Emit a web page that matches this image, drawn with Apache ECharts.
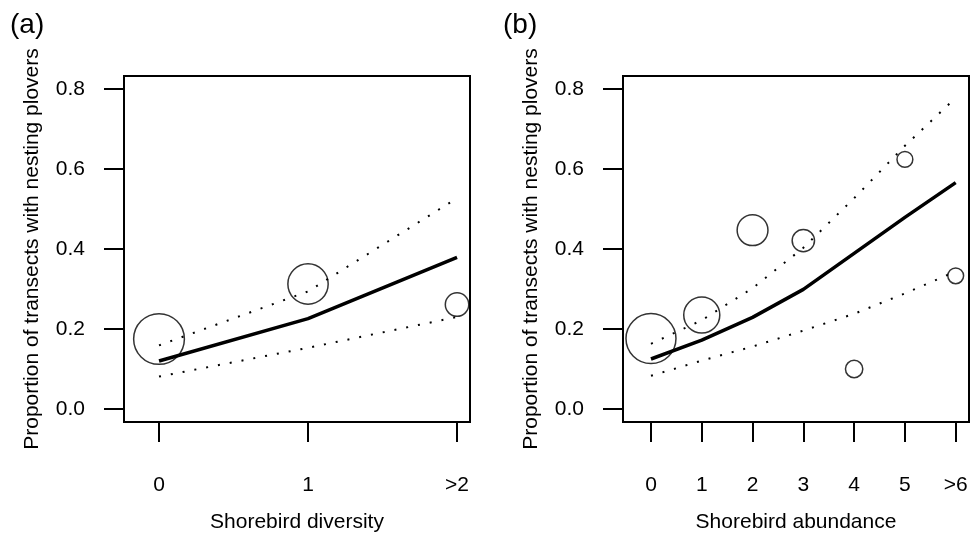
<!DOCTYPE html>
<html>
<head>
<meta charset="utf-8" />
<title>Shorebirds and nesting plovers</title>
<script type="text/javascript" src="https://cdn.jsdelivr.net/npm/echarts@6/dist/echarts.min.js"></script>
<style type="text/css">
html, body {
	width: 100%;
	height: 100%;
	margin: 0;
	background: #fff;
}
#main {
	width: 972px;
	height: 537px;
}
</style>
</head>
<body>
<div id="main"></div>
<script type="text/javascript">
// (a) shorebird diversity
var diversityX = [0, 1, 2];
var diversityTicks = ['0', '1', '>2'];
var diversityFit = [0.120, 0.226, 0.379];
var diversityUpper = [0.159, 0.294, 0.527];
var diversityLower = [0.081, 0.153, 0.230];
var diversityObs = [0.175, 0.3125, 0.261];
var diversityN = [103, 65, 22];

// (b) shorebird abundance
var abundanceX = [0, 1, 2, 3, 4, 5, 6];
var abundanceTicks = ['0', '1', '2', '3', '4', '5', '>6'];
var abundanceFit = [0.125, 0.172, 0.229, 0.299, 0.389, 0.479, 0.566];
var abundanceUpper = [0.163, 0.222, 0.302, 0.403, 0.527, 0.658, 0.778];
var abundanceLower = [0.083, 0.121, 0.156, 0.196, 0.238, 0.289, 0.344];
var abundanceObs = [0.176, 0.235, 0.447, 0.421, 0.100, 0.624, 0.333];
var abundanceN = [100, 52, 38, 20, 12, 10, 10];

var yTicks = [0, 0.2, 0.4, 0.6, 0.8];
var yTitle = 'Proportion of transects with nesting plovers';

var font = 'Liberation Sans';
var chart = echarts.init(document.getElementById('main'), null, {renderer: 'canvas'});

function pairs(xs, ys) {
	return xs.map(function (x, i) { return [x, ys[i]]; });
}

function makeX(idx, min, max, ticks, title) {
	var vals = ticks.map(function (t, i) { return i; });
	return {
		gridIndex: idx,
		type: 'value',
		min: min,
		max: max,
		axisLine: {show: false, onZero: false},
		splitLine: {show: false},
		axisTick: {show: true, length: 20, customValues: vals, lineStyle: {color: '#000', width: 2}},
		axisLabel: {
			customValues: vals,
			formatter: function (v) { return ticks[Math.round(v)]; },
			margin: 53, color: '#000', fontSize: 21, fontFamily: font
		},
		name: title,
		nameLocation: 'middle',
		nameGap: 90,
		nameTextStyle: {color: '#000', fontSize: 21, fontFamily: font}
	};
}

function makeY(idx) {
	return {
		gridIndex: idx,
		type: 'value',
		min: -0.0325,
		max: 0.8325,
		axisLine: {show: false, onZero: false},
		splitLine: {show: false},
		axisTick: {show: true, length: 20, customValues: yTicks, lineStyle: {color: '#000', width: 2}},
		axisLabel: {
			customValues: yTicks,
			formatter: function (v) { return v.toFixed(1); },
			margin: 39, color: '#000', fontSize: 21, fontFamily: font
		},
		name: yTitle,
		nameLocation: 'middle',
		nameGap: 81,
		nameTextStyle: {color: '#000', fontSize: 21, fontFamily: font}
	};
}

function panelSeries(idx, xs, fit, upper, lower, obs, n) {
	var dotted = {color: '#000', width: 2, type: [2, 10]};
	return [
		{type: 'line', xAxisIndex: idx, yAxisIndex: idx, data: pairs(xs, upper), symbol: 'none', lineStyle: dotted, silent: true},
		{type: 'line', xAxisIndex: idx, yAxisIndex: idx, data: pairs(xs, lower), symbol: 'none', lineStyle: dotted, silent: true},
		{type: 'line', xAxisIndex: idx, yAxisIndex: idx, data: pairs(xs, fit), symbol: 'none', lineStyle: {color: '#000', width: 3.5}, silent: true},
		{
			type: 'scatter', xAxisIndex: idx, yAxisIndex: idx,
			data: xs.map(function (x, i) { return [x, obs[i], n[i]]; }),
			symbol: 'circle',
			symbolSize: function (d) { return 5 * Math.sqrt(d[2]); },
			itemStyle: {color: 'rgba(0,0,0,0)', borderColor: '#000', borderWidth: 1.5},
			silent: true
		}
	];
}

var option = {
	animation: false,
	backgroundColor: '#fff',
	grid: [
		{left: 124, top: 76, width: 346, height: 346, outerBoundsMode: 'none', show: true, borderColor: '#000', borderWidth: 2, backgroundColor: 'transparent'},
		{left: 623, top: 76, width: 346, height: 346, outerBoundsMode: 'none', show: true, borderColor: '#000', borderWidth: 2, backgroundColor: 'transparent'}
	],
	graphic: [
		{type: 'text', left: 10, top: 11, style: {text: '(a)', font: '28px Liberation Sans', fill: '#000'}},
		{type: 'text', left: 503, top: 11, style: {text: '(b)', font: '28px Liberation Sans', fill: '#000'}}
	],
	xAxis: [
		makeX(0, -0.235, 2.087, diversityTicks, 'Shorebird diversity'),
		makeX(1, -0.551, 6.262, abundanceTicks, 'Shorebird abundance')
	],
	yAxis: [makeY(0), makeY(1)],
	series: panelSeries(0, diversityX, diversityFit, diversityUpper, diversityLower, diversityObs, diversityN)
		.concat(panelSeries(1, abundanceX, abundanceFit, abundanceUpper, abundanceLower, abundanceObs, abundanceN))
};

chart.setOption(option);
</script>
</body>
</html>
